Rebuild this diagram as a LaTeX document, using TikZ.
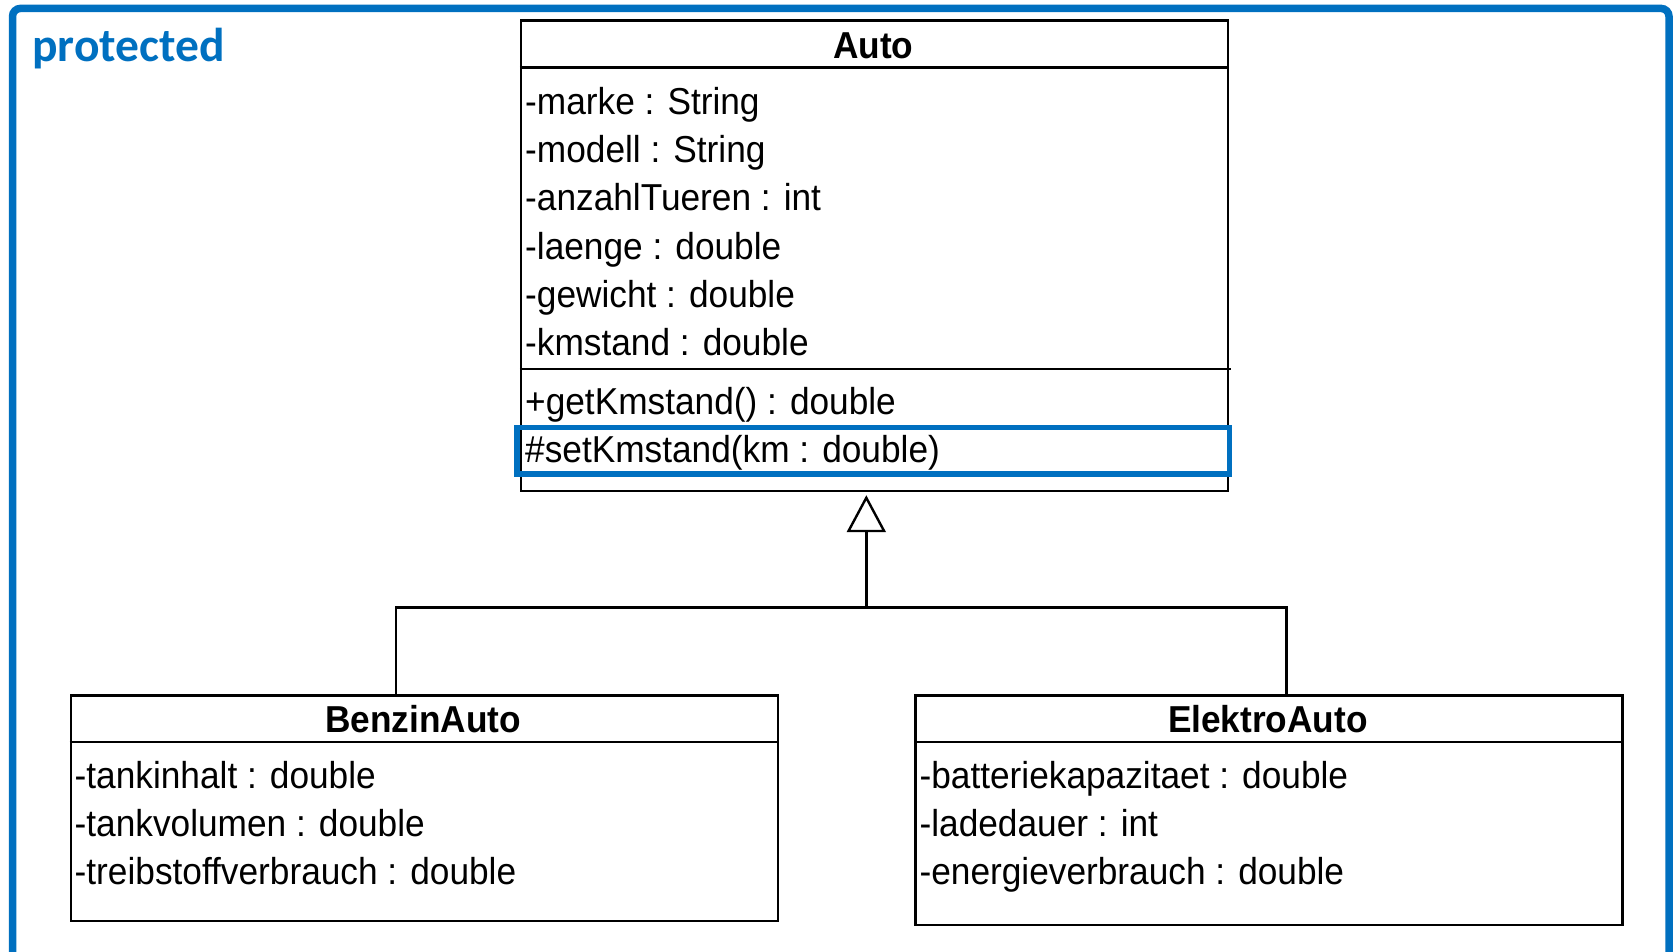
\documentclass[tikz,border=0pt]{standalone}
\usepackage{fontspec}
\usetikzlibrary{arrows.meta}
\newfontfamily\umlfont[FakeStretch=0.94]{Liberation Sans}
\newfontfamily\protfont{Carlito}
\definecolor{ublue}{RGB}{0,112,192}
\begin{document}
\begin{tikzpicture}[x=1pt,y=-1pt,
  classbox/.style={draw=black, line width=2.4pt, fill=white, inner sep=0pt, anchor=north west},
  member/.style={font=\umlfont\fontsize{37.5}{40}\selectfont, anchor=base west, inner sep=0pt},
  ctitle/.style={font=\umlfont\bfseries\fontsize{37.5}{40}\selectfont, anchor=base, inner sep=0pt},
  sepline/.style={line width=2.4pt},
  conn/.style={line width=2.4pt},
  hlbox/.style={draw=ublue, line width=5.5pt, inner sep=0pt, anchor=north west}]
\useasboundingbox (0,0) rectangle (1677,951);
\clip (0,0) rectangle (1677,951);
\fill[white] (0,0) rectangle (1677,951);
% frame
\draw[ublue, line width=7.5pt, rounded corners=8pt] (12.5,990) -- (12.5,8.4) -- (1669,8.4) -- (1669,990);
\node[font=\protfont\bfseries\fontsize{47.5}{50}\selectfont, text=ublue, anchor=base west, inner sep=0pt] (prot) at (32,61) {protected};

% Auto
\node[classbox, minimum width=706.9pt, minimum height=470.5pt] (auto) at (519.8,19.3) {};
\draw[sepline] (519.8,67.4) -- (1226.7,67.4);
\draw[sepline] (519.8,369.0) -- (1231,369.0);
\node[ctitle] (autot) at (873.25,58.9) {Auto};
\node[member] (a1) at (525,114.6) {-marke : String};
\node[member] (a2) at (525,162.7) {-modell : String};
\node[member] (a3) at (525,210.9) {-anzahlTueren : int};
\node[member] (a4) at (525,259.0) {-laenge : double};
\node[member] (a5) at (525,307.1) {-gewicht : double};
\node[member] (a6) at (525,355.2) {-kmstand : double};
\node[member] (m1) at (525,414.1) {+getKmstand() : double};
\node[member] (m2) at (525,462.2) {\#setKmstand(km : double)};
\node[hlbox, minimum width=712.5pt, minimum height=46.5pt] (hl) at (514.2,424.6) {};

% BenzinAuto
\node[classbox, minimum width=707pt, minimum height=225.7pt] (benzin) at (69.5,694.1) {};
\draw[sepline] (69.5,742.2) -- (776.5,742.2);
\node[ctitle] (benzint) at (423,732.7) {BenzinAuto};
\node[member] (b1) at (74.5,788.6) {-tankinhalt : double};
\node[member] (b2) at (74.5,836.7) {-tankvolumen : double};
\node[member] (b3) at (74.5,884.8) {-treibstoffverbrauch : double};

% ElektroAuto
\node[classbox, minimum width=707pt, minimum height=229.9pt] (elektro) at (914.4,694.1) {};
\draw[sepline] (914.4,742.2) -- (1621.4,742.2);
\node[ctitle] (elektrot) at (1267.9,732.7) {ElektroAuto};
\node[member] (e1) at (919.4,788.6) {-batteriekapazitaet : double};
\node[member] (e2) at (919.4,836.7) {-ladedauer : int};
\node[member] (e3) at (919.4,884.8) {-energieverbrauch : double};

% generalization
\coordinate (j) at (866.3,607.5);
\coordinate (bt) at (395.7,694.1);
\coordinate (et) at (1286.6,694.1);
\draw[conn] (bt) |- (j) -| (et);
\draw[conn, shorten >=3pt, -{Triangle[open, length=37pt, width=39pt, line width=2.4pt]}] (j) -- (auto.south -| j);
\end{tikzpicture}
\end{document}
